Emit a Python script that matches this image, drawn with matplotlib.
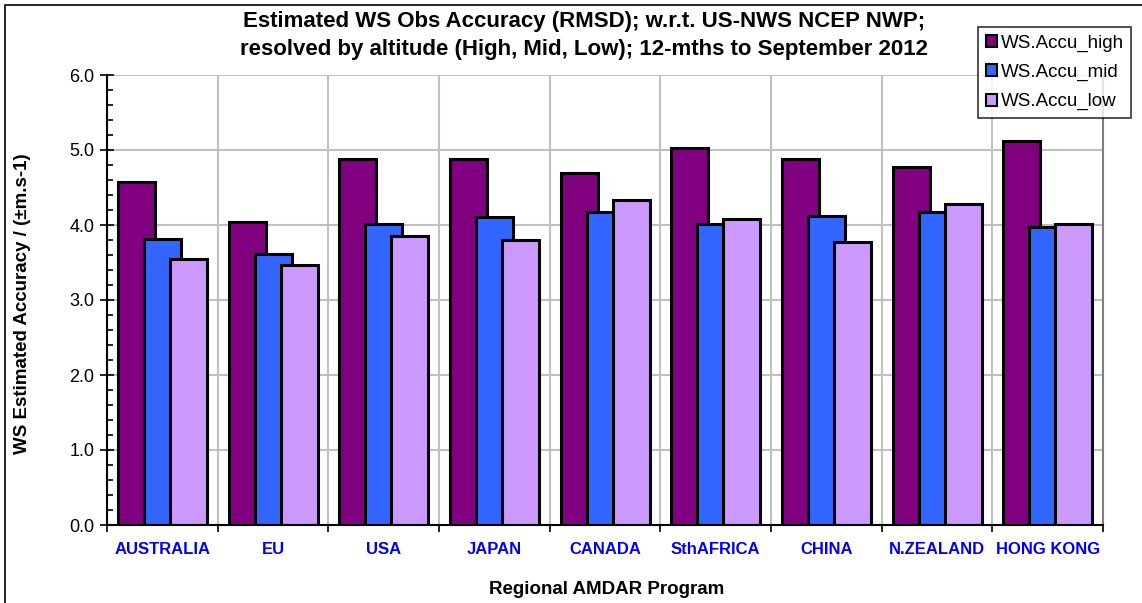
import numpy as np
import matplotlib
matplotlib.use("Agg")
import matplotlib.pyplot as plt
from matplotlib.patches import Rectangle
from matplotlib.ticker import MultipleLocator

plt.rcParams['font.family'] = ['Liberation Sans', 'DejaVu Sans']

# RMSD wind-speed accuracy by region and altitude band
regions = ["AUSTRALIA", "EU", "USA", "JAPAN", "CANADA",
           "SthAFRICA", "CHINA", "N.ZEALAND", "HONG KONG"]
acc_high = [4.58, 4.04, 4.88, 4.88, 4.69, 5.03, 4.88, 4.78, 5.12]
acc_mid = [3.82, 3.61, 4.02, 4.11, 4.18, 4.02, 4.12, 4.18, 3.97]
acc_low = [3.55, 3.47, 3.86, 3.80, 4.34, 4.08, 3.77, 4.28, 4.01]
series_names = ["WS.Accu_high", "WS.Accu_mid", "WS.Accu_low"]
colors = ["#800080", "#3366FF", "#CC99FF"]

W, H = 1142, 603
fig = plt.figure(figsize=(W / 100, H / 100), dpi=100)

# chart-area border
fig.patches.append(Rectangle((5 / W, -0.1), 1.2, 1 - 5 / H + 0.1,
                             transform=fig.transFigure, fill=False,
                             edgecolor="black", linewidth=1.2))

ax = fig.add_axes([107 / W, (H - 525) / H, (1103 - 107) / W, 450 / H])

x = np.arange(len(regions))
bar_w = 0.334
step = 0.235
offset = 0.1
for k, (vals, name, col) in enumerate(zip([acc_high, acc_mid, acc_low],
                                          series_names, colors)):
    ax.bar(x + offset + k * step, vals, width=bar_w, align="edge",
           color=col, edgecolor="black", linewidth=2.2, label=name,
           zorder=3 + k)

ax.set_xlim(0, len(regions))
ax.set_ylim(0, 6.0)

ax.yaxis.set_minor_locator(MultipleLocator(0.2))
ax.set_yticks(np.arange(0, 6.01, 1.0))
ax.set_yticklabels([f"{v:.1f}" for v in np.arange(0, 6.01, 1.0)], fontsize=13)
ax.tick_params(axis="y", which="major", direction="inout", length=10,
               width=1.2, pad=4)
ax.tick_params(axis="y", which="minor", direction="in", length=4, width=1.2)

ax.set_xticks(np.arange(0, len(regions) + 1))
ax.set_xticklabels([])
ax.set_xticks(x + 0.5, minor=True)
ax.set_xticklabels(regions, minor=True, fontsize=12, fontweight="bold",
                   color="#0000FF")
ax.tick_params(axis="x", which="major", direction="out", length=5, width=1.2)
ax.tick_params(axis="x", which="minor", length=0, pad=12)

ax.grid(True, which="major", color="#C0C0C0", linewidth=1.5, zorder=0)
ax.set_axisbelow(True)

for side in ["left", "bottom"]:
    ax.spines[side].set_linewidth(1.5)
    ax.spines[side].set_color("black")
    ax.spines[side].set_zorder(10)
ax.spines["top"].set_visible(False)
ax.spines["right"].set_color("#808080")
ax.spines["right"].set_linewidth(1.5)

fig.text(584 / W, 1 - 22 / H,
         "Estimated WS Obs Accuracy (RMSD); w.r.t. US-NWS NCEP NWP;",
         ha="center", va="center", fontsize=16, fontweight="bold")
fig.text(584 / W, 1 - 50 / H,
         "resolved by altitude (High, Mid, Low); 12-mths to September 2012",
         ha="center", va="center", fontsize=16, fontweight="bold")

fig.text(23 / W, 1 - 304 / H, "WS Estimated Accuracy / (\u00b1m.s-1)",
         rotation=90, ha="center", va="center", fontsize=13.5,
         fontweight="bold")
fig.text(607 / W, 1 - 590 / H, "Regional AMDAR Program",
         ha="center", va="center", fontsize=13.5, fontweight="bold")

leg = fig.legend(loc="upper left",
                 bbox_to_anchor=(978 / W, 1 - 27 / H, (1127 - 978) / W, 0),
                 fontsize=13.5, frameon=True, fancybox=False,
                 handlelength=0.6, handleheight=0.6, handletextpad=0.2,
                 borderpad=0.4, labelspacing=0.65, borderaxespad=0)
leg.get_frame().set_edgecolor("black")
leg.get_frame().set_linewidth(1.2)
for h in leg.legend_handles:
    h.set_linewidth(1.5)

fig.savefig("out.png", dpi=100)
